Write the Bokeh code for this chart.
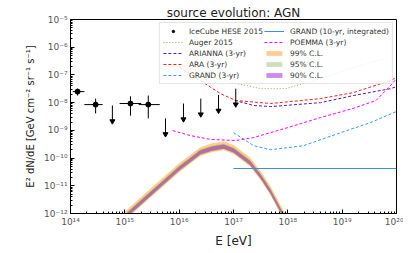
from bokeh.plotting import figure
from bokeh.models import FixedTicker, CustomJSTickFormatter, Legend, LegendItem
from bokeh.embed import file_html
from bokeh.resources import INLINE

# ---------------- data ----------------
# IceCube HESE 2015 points
ic_E = [1.35e14, 2.9e14, 1.27e15, 2.7e15]
ic_E_lo = [1.1e14, 1.8e14, 8.0e14, 1.8e15]
ic_E_hi = [1.8e14, 3.9e14, 2.0e15, 4.4e15]
ic_F = [2.5e-8, 8.5e-9, 9.3e-9, 8.5e-9]
ic_F_lo = [1.8e-8, 4.1e-9, 3.4e-9, 2.7e-9]
ic_F_hi = [3.2e-8, 1.4e-8, 1.7e-8, 1.8e-8]
# IceCube HESE 2015 upper limits
ul_E = [5.9e14, 5.6e15, 1.2e16, 2.5e16, 5.3e16, 1.1e17]
ul_F = [7.9e-9, 2.7e-9, 9.3e-9, 1.4e-8, 1.9e-8, 3.2e-8]
ul_drop = 0.27

# Auger 2015
auger_E = [9.8e15, 2.45e16, 8.9e16, 3.2e17, 9.1e17, 4.0e18, 1.45e19, 5.8e19]
auger_F = [2.6e-7, 1.23e-7, 5.4e-8, 3.2e-8, 3.2e-8, 7.4e-8, 1.7e-7, 3.9e-7]
# ARIANNA (3-yr)
arianna_E = [1.05e17, 2.35e17, 4.8e17, 4.0e18, 1.6e19, 7.8e19, 1.0e20]
arianna_F = [1.2e-8, 7.9e-9, 7.2e-9, 1.0e-8, 1.8e-8, 3.2e-8, 3.8e-8]
# ARA (3-yr)
ara_E = [1.0e16, 2.45e16, 5.8e16, 1.1e17, 4.8e17, 4.0e18, 1.6e19, 7.8e19, 1.0e20]
ara_F = [1.9e-7, 6.3e-8, 2.1e-8, 1.2e-8, 9.3e-9, 1.4e-8, 2.3e-8, 6.3e-8, 8.1e-8]
# GRAND (3-yr)
grand3_E = [1.0e17, 2.35e17, 4.8e17, 1.95e18, 8.3e18, 3.3e19, 1.0e20]
grand3_F = [8.3e-10, 2.8e-10, 2.0e-10, 2.8e-10, 7.6e-10, 1.9e-9, 4.8e-9]
# GRAND (10-yr, integrated)
grand10_E = [1.0e17, 1.0e20]
grand10_F = [4.2e-11, 4.2e-11]
# POEMMA (3-yr)
poemma_E = [7.6e15, 1.6e16, 3.8e16, 1.1e17, 2.35e17, 1.0e18, 4.0e18, 1.6e19, 4.2e19, 7.8e19, 1.0e20]
poemma_F = [9.8e-10, 6.5e-10, 4.7e-10, 4.3e-10, 5.5e-10, 1.26e-9, 2.9e-9, 6.2e-9, 1.2e-8, 4.2e-8, 7.4e-8]

# AGN flux and confidence bands
agn_E = [8.5e14, 1.17e15, 3.2e15, 1.0e16, 2.45e16, 4.0e16, 6.6e16, 1.0e17,
         2.0e17, 3.2e17, 4.8e17, 7.9e17, 1.12e18]
agn_F = [5.5e-13, 1.0e-12, 5.8e-12, 4.2e-11, 1.6e-10, 2.2e-10, 2.6e-10, 1.9e-10,
         6.9e-11, 2.1e-11, 6.2e-12, 1.0e-12, 3.2e-13]
cl_labels = ["99% C.L.", "95% C.L.", "90% C.L."]
cl_lo = [0.74, 0.80, 0.84]
cl_hi = [1.55, 1.30, 1.19]

x_decades = list(range(14, 21))
y_decades = list(range(-12, -4))

# ---------------- figure ----------------
p = figure(width=403, height=253, x_axis_type="log", y_axis_type="log",
           x_range=(1e14, 1e20), y_range=(1e-12, 1e-5),
           output_backend="svg", toolbar_location=None,
           min_border_left=70, min_border_right=7, min_border_top=19,
           min_border_bottom=40)
p.grid.visible = False
p.outline_line_color = "black"
p.outline_line_width = 1
p.background_fill_color = "white"

p.title.text = "source evolution: AGN"
p.title.align = "center"
p.title.text_font = "DejaVu Sans"
p.title.text_font_size = "12px"
p.title.text_font_style = "normal"
p.title.text_color = "#222222"
p.title.standoff = 0
p.title.offset = 0

sup_code = """
const sup = {'-':'\u207b','0':'\u2070','1':'\u00b9','2':'\u00b2','3':'\u00b3','4':'\u2074','5':'\u2075','6':'\u2076','7':'\u2077','8':'\u2078','9':'\u2079'};
const e = Math.round(Math.log10(tick));
return '10' + String(e).split('').map(c => sup[c]).join('');
"""
fmt = CustomJSTickFormatter(code=sup_code)

p.xaxis.ticker = FixedTicker(ticks=[10.0 ** k for k in x_decades],
                             minor_ticks=[m * 10.0 ** k for k in x_decades[:-1] for m in range(2, 10)])
p.yaxis.ticker = FixedTicker(ticks=[10.0 ** k for k in y_decades],
                             minor_ticks=[m * 10.0 ** k for k in y_decades[:-1] for m in range(2, 10)])
for ax in (p.xaxis, p.yaxis):
    ax.formatter = fmt
    ax.major_tick_in = 4
    ax.major_tick_out = 0
    ax.minor_tick_in = 2
    ax.minor_tick_out = 0
    ax.axis_line_color = "black"
    ax.major_tick_line_color = "black"
    ax.minor_tick_line_color = "black"
    ax.major_label_text_font = "DejaVu Sans"
    ax.major_label_text_font_size = "9px"
    ax.major_label_text_color = "#555555"
    ax.axis_label_text_font = "DejaVu Sans"
    ax.axis_label_text_font_style = "normal"
    ax.axis_label_text_color = "#222222"
p.xaxis.axis_label = "E [eV]"
p.xaxis.axis_label_text_font_size = "12px"
p.xaxis.axis_label_standoff = 4
p.xaxis.major_label_standoff = 3
p.yaxis.axis_label = "E\u00b2 dN/dE [GeV cm\u207b\u00b2 sr\u207b\u00b9 s\u207b\u00b9]"
p.yaxis.axis_label_text_font_size = "10px"
p.yaxis.axis_label_standoff = 5
p.yaxis.major_label_standoff = 3

# ---------------- bands ----------------
band_colors = ["#fad28c", "#d2c878", "#b46ea0"]
for lo, hi, col in zip(cl_lo, cl_hi, band_colors):
    p.varea(x=agn_E, y1=[f * lo for f in agn_F], y2=[f * hi for f in agn_F],
            fill_color=col, fill_alpha=1.0)

# ---------------- experiment lines ----------------
r_auger = p.line(auger_E, auger_F, line_color="#9aa84a", line_dash="1 2", line_width=1)
r_arianna = p.line(arianna_E, arianna_F, line_color="#5a1a9a", line_dash="3 2", line_width=1)
r_ara = p.line(ara_E, ara_F, line_color="#ff2020", line_dash="3 2", line_width=1)
r_grand3 = p.line(grand3_E, grand3_F, line_color="#3399ff", line_dash="3 2", line_width=1)
r_grand10 = p.line(grand10_E, grand10_F, line_color="#3a8fe6", line_width=1)
r_poemma = p.line(poemma_E, poemma_F, line_color="#ff00ff", line_dash="3 2", line_width=1)

# ---------------- IceCube ----------------
p.segment(x0=ic_E_lo, y0=ic_F, x1=ic_E_hi, y1=ic_F, line_color="black", line_width=1)
p.segment(x0=ic_E, y0=ic_F_lo, x1=ic_E, y1=ic_F_hi, line_color="black", line_width=1)
r_ic = p.scatter(ic_E, ic_F, size=5, color="black")
ul_tip = [f * ul_drop for f in ul_F]
p.segment(x0=ul_E, y0=ul_F, x1=ul_E, y1=ul_tip, line_color="black", line_width=1)
p.scatter(ul_E, ul_tip, marker="inverted_triangle", size=5, color="black")

# legend-only patches
leg_colors = ["#ffcd91", "#cde1b9", "#cd8ce6"]
leg_r = [p.varea(x=[1e10, 2e10], y1=[1e-20, 1e-20], y2=[2e-20, 2e-20], fill_color=c)
         for c in leg_colors]

items = [
    LegendItem(label="IceCube HESE 2015", renderers=[r_ic]),
    LegendItem(label="Auger 2015", renderers=[r_auger]),
    LegendItem(label="ARIANNA (3-yr)", renderers=[r_arianna]),
    LegendItem(label="ARA (3-yr)", renderers=[r_ara]),
    LegendItem(label="GRAND (3-yr)", renderers=[r_grand3]),
    LegendItem(label="GRAND (10-yr, integrated)", renderers=[r_grand10]),
    LegendItem(label="POEMMA (3-yr)", renderers=[r_poemma]),
] + [LegendItem(label=l, renderers=[r]) for l, r in zip(cl_labels, leg_r)]

legend = Legend(items=items, location="top_right", ncols=2,
                label_text_font="DejaVu Sans", label_text_font_size="7.5px",
                label_text_color="#333333", glyph_width=20, glyph_height=6,
                label_height=10, spacing=1, padding=3, margin=3,
                label_standoff=6, border_line_color="#cccccc",
                background_fill_alpha=0.8)
p.add_layout(legend)

open("out.html", "w").write(file_html(p, INLINE))
